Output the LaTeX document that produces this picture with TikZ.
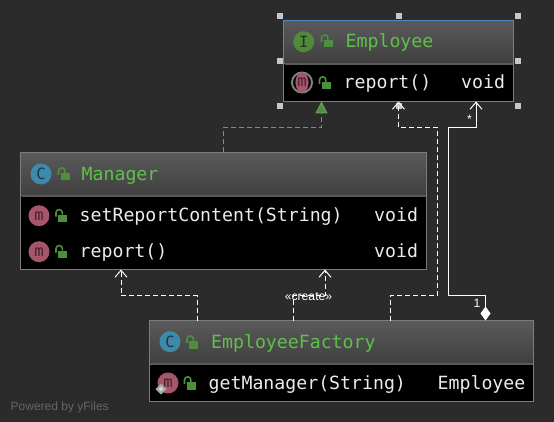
\documentclass[tikz,border=0pt]{standalone}
\usepackage{fontspec}
\setmainfont{Liberation Sans}
\newfontfamily\codefont{DejaVu Sans Mono}
\usetikzlibrary{arrows.meta,shapes.geometric}
\definecolor{canvas}{HTML}{2B2B2B}
\definecolor{headtop}{HTML}{5A5A5A}
\definecolor{headbot}{HTML}{3F3F3F}
\definecolor{edgegray}{HTML}{7C7C7C}
\definecolor{selblue}{HTML}{4A88C7}
\definecolor{namegreen}{HTML}{5FC04B}
\definecolor{lockgreen}{HTML}{4E8F3E}
\definecolor{methodpink}{HTML}{A5566A}
\definecolor{classblue}{HTML}{3E8AAB}
\definecolor{ifacegreen}{HTML}{4F8B3B}
\tikzset{
	classbox/.style={draw=edgegray, fill=black, line width=1pt, inner sep=0pt, outer sep=0pt, anchor=north west},
	headbar/.style={draw=edgegray, top color=headtop, bottom color=headbot, line width=1pt, inner sep=0pt, outer sep=0pt, anchor=north west, minimum height=43.5pt},
	divider/.style={draw=headtop, line width=2pt},
	classname/.style={text=namegreen, anchor=base west, inner sep=0pt, font=\codefont\fontsize{18.2}{20}\selectfont},
	member/.style={text=white!92!black, anchor=base west, inner sep=0pt, font=\codefont\fontsize{18.2}{20}\selectfont},
	icon/.style={circle, fill=#1, minimum size=21pt, inner sep=0pt, font=\codefont\fontsize{15.5}{15.5}\selectfont, text=black!60!#1},
	handle/.style={fill=black!22!white, minimum size=6pt, inner sep=0pt},
	depend/.style={draw=white, line width=1pt, dash pattern=on 5pt off 3pt, -{Straight Barb[length=7pt,width=12pt]}},
	realize/.style={draw=lockgreen!85!white, line width=1pt, dash pattern=on 5pt off 3pt, -{Triangle[length=12pt,width=12pt,fill=lockgreen]}},
	aggregate/.style={draw=white, line width=1pt, {Diamond[length=14pt,width=10pt,fill=white]}-{Straight Barb[length=7pt,width=12pt]}},
	edgetag/.style={text=white, inner sep=0pt, font=\fontsize{12.2}{14}\selectfont},
	padlock/.pic={
		\fill[lockgreen] (-3.5,-1) rectangle (5.5,6.5);
		\draw[lockgreen, line width=1.6pt] (-5.5,1) -- (-5.5,-3) arc[start angle=180,end angle=0,x radius=3.2,y radius=-3.2] -- (0.9,-1);
	}
}

\begin{document}
\begin{tikzpicture}[x=1pt, y=-1pt]

	% Draw the canvas
	\fill[canvas] (0,0) rectangle (554,422);
	\useasboundingbox (0,0) rectangle (554,422);

	% Employee
	\node[classbox, draw=selblue, minimum width=230pt, minimum height=81pt] (employee) at (283.5,20.5) {};
	\node[headbar, draw=selblue, minimum width=230pt] (employeeHead) at (employee.north west) {};
	\draw[divider] ([xshift=1pt]employeeHead.south west) -- ([xshift=-1pt]employeeHead.south east);
	\node[icon=ifacegreen] (employeeIcon) at (303.7,41.7) {I};
	\pic at (327,41) {padlock};
	\node[classname] (employeeName) at (345.5,48) {Employee};
	\node[circle, draw=gray, line width=2pt, fill=black, minimum size=20pt, inner sep=0pt] (reportRing) at (302,82.5) {};
	\node[ellipse, fill=methodpink, minimum width=13pt, minimum height=20pt, inner sep=0pt, font=\codefont\fontsize{15.5}{15.5}\selectfont, text=black!60!methodpink] (reportIcon) at (302,82.5) {m};
	\pic at (325,83) {padlock};
	\node[member] (reportName) at (343.5,89) {report()};
	\node[member] (reportType) at (461,89) {void};

	% Selection handles
	\foreach \hx/\hy/\hname in {280/16/a, 399/16/b, 518/16/c, 280/61/d, 518/61/e, 280/106/f, 399/106/g, 518/106/h}
		\node[handle] (handle\hname) at (\hx,\hy) {};

	% Manager
	\node[classbox, minimum width=406pt, minimum height=117pt] (manager) at (20.5,152.5) {};
	\node[headbar, minimum width=406pt] (managerHead) at (manager.north west) {};
	\draw[divider] ([xshift=1pt]managerHead.south west) -- ([xshift=-1pt]managerHead.south east);
	\node[icon=classblue] (managerIcon) at (41,174) {C};
	\pic at (64,174) {padlock};
	\node[classname] (managerName) at (81.5,180.5) {Manager};
	\node[icon=methodpink] (setIcon) at (39,215.7) {m};
	\pic at (61.5,215.7) {padlock};
	\node[member] (setName) at (79.5,221.5) {setReportContent(String)};
	\node[member] (setType) at (374,221.5) {void};
	\node[icon=methodpink] (overIcon) at (39,251.7) {m};
	\pic at (61.5,251.7) {padlock};
	\node[member] (overName) at (79.5,257.5) {report()};
	\node[member] (overType) at (374,257.5) {void};

	% EmployeeFactory
	\node[classbox, minimum width=384pt, minimum height=81pt] (factory) at (149.5,320.5) {};
	\node[headbar, minimum width=384pt] (factoryHead) at (factory.north west) {};
	\draw[divider] ([xshift=1pt]factoryHead.south west) -- ([xshift=-1pt]factoryHead.south east);
	\node[icon=classblue] (factoryIcon) at (170,341.7) {C};
	\pic at (192.5,342) {padlock};
	\node[classname] (factoryName) at (211,348) {EmployeeFactory};
	\node[icon=methodpink] (getIcon) at (168,383) {m};
	\pic at (190,383) {padlock};
	\node[member] (getName) at (208.5,389.5) {getManager(String)};
	\node[member] (getType) at (437.5,389.5) {Employee};
	\node[diamond, draw=gray!70!white, line width=2pt, fill=white!85!black, minimum size=9pt, inner sep=0pt] (getMark) at (161,389) {};

	% Bends of the connectors
	\coordinate (implFoot) at (223.5,127.5);
	\coordinate (implBend) at (321.5,127.5);
	\coordinate (leftFoot) at (197,295.5);
	\coordinate (leftBend) at (121,295.5);
	\coordinate (midFoot) at (293,295.5);
	\coordinate (midBend) at (325,295.5);
	\coordinate (upFoot) at (390,295.5);
	\coordinate (upTurn) at (437.5,295.5);
	\coordinate (upLeft) at (437.5,127.5);
	\coordinate (upBend) at (398.5,127.5);
	\coordinate (aggFoot) at (485.5,295.5);
	\coordinate (aggTurn) at (448.5,295.5);
	\coordinate (aggLeft) at (448.5,127.5);
	\coordinate (aggBend) at (476,127.5);

	% Draw the connectors
	\draw[realize] (manager.north -| implFoot) -- (implFoot) -- (implBend) -- (employee.south -| implBend);
	\draw[depend] (factory.north -| leftFoot) -- (leftFoot) -- (leftBend) -- (manager.south -| leftBend);
	\draw[depend] (factory.north -| midFoot) -- (midFoot) -- (midBend) -- (manager.south -| midBend);
	\draw[depend] (factory.north -| upFoot) -- (upFoot) -- (upTurn) -- (upLeft) -- (upBend) -- (employee.south -| upBend);
	\draw[aggregate] (factory.north -| aggFoot) -- (aggFoot) -- (aggTurn) -- (aggLeft) -- (aggBend) -- (employee.south -| aggBend);

	% Labels on the connectors
	\node[edgetag] (createTag) at (308.5,296.5) {«create»};
	\node[edgetag] (manyTag) at (469.5,119) {*};
	\node[edgetag] (oneTag) at (477,303) {1};

	% Footer
	\node[anchor=base west, inner sep=0pt, text=white!40!black, font=\fontsize{12}{14}\selectfont] (poweredTag) at (10.5,410) {Powered by yFiles};

\end{tikzpicture}
\end{document}
